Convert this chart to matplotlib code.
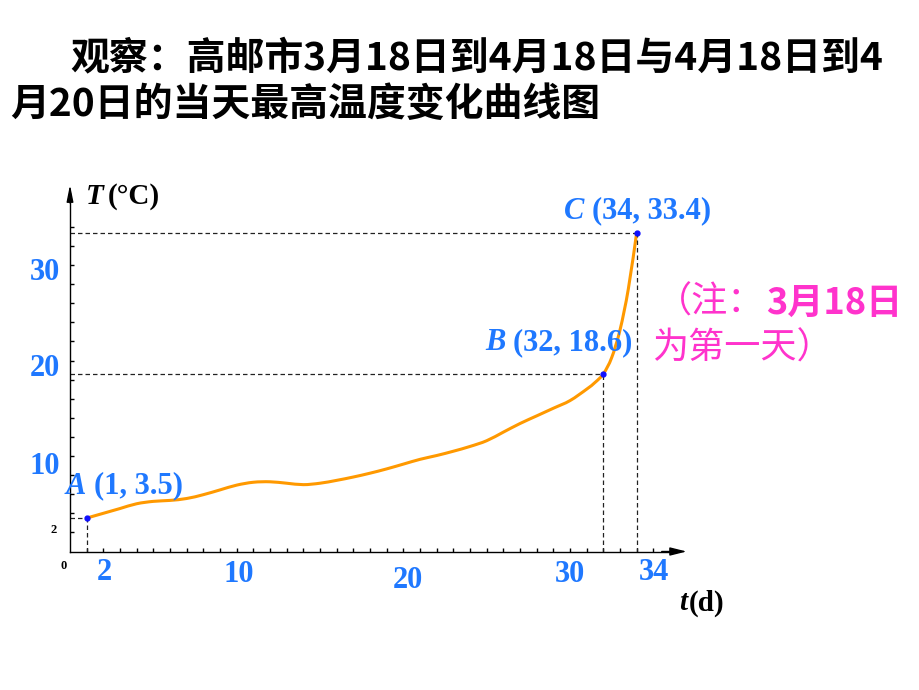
import matplotlib
matplotlib.use("Agg")
import matplotlib.pyplot as plt
from matplotlib.path import Path
from matplotlib.patches import PathPatch

# daily max temperature (t = day, 3/18 is day 1)
t = [1, 2, 3, 4, 5, 6, 7, 8, 9, 10, 11, 12, 13, 14, 15, 16, 17, 18, 19, 20,
     21, 22, 23, 24, 25, 26, 27, 28, 29, 30, 31, 31.5, 32, 32.5, 33, 33.5, 34]
T = [3.5, 4.0, 4.5, 5.0, 5.25, 5.35, 5.55, 5.95, 6.45, 6.95, 7.25, 7.3, 7.15,
     7.0, 7.15, 7.45, 7.8, 8.2, 8.65, 9.15, 9.65, 10.05, 10.5, 11.0, 11.6,
     12.5, 13.4, 14.2, 15.0, 15.8, 17.0, 17.7, 18.6, 20.3, 23.2, 27.5, 33.4]

pt_names = ["A", "B", "C"]
pt_t = [1, 32, 34]
pt_T = [3.5, 18.6, 33.4]

xtick_labels = ["2", "10", "20", "30", "34"]
ytick_labels = ["10", "20", "30"]

blue = "#1f78ff"
orange = "#ff9900"
pink = "#ff33cc"
serif = "Liberation Serif"
cjk = ["Noto Sans CJK SC", "DejaVu Sans"]

# pixel layout of the slide: origin at (70, 551.5), 16.67 px per day, 9.55 px per degree
X0, Y0, SX, SY = 70.0, 551.5, 16.667, 9.55


def px(x, y):
    return (x - X0) / SX, (Y0 - y) / SY


def smooth_path(xs, ys):
    # bezier path through the points (catmull-rom control points)
    pts = list(zip(xs, ys))
    verts = [pts[0]]
    codes = [Path.MOVETO]
    for i in range(len(pts) - 1):
        p0 = pts[max(i - 1, 0)]
        p1 = pts[i]
        p2 = pts[i + 1]
        p3 = pts[min(i + 2, len(pts) - 1)]
        c1 = (p1[0] + (p2[0] - p0[0]) / 6, p1[1] + (p2[1] - p0[1]) / 6)
        c2 = (p2[0] - (p3[0] - p1[0]) / 6, p2[1] - (p3[1] - p1[1]) / 6)
        verts += [c1, c2, p2]
        codes += [Path.CURVE4] * 3
    return Path(verts, codes)


fig = plt.figure(figsize=(9.2, 6.9), dpi=100)
ax = fig.add_axes([0, 0, 1, 1])
ax.set_xlim(px(0, 0)[0], px(920, 0)[0])
ax.set_ylim(px(0, 690)[1], px(0, 0)[1])

for s in ["top", "right"]:
    ax.spines[s].set_visible(False)
ax.spines["left"].set_position(("data", 0))
ax.spines["bottom"].set_position(("data", 0))
ax.spines["left"].set_bounds(0, 37.5)
ax.spines["bottom"].set_bounds(0, 36)
ax.spines["left"].set_linewidth(1)
ax.spines["bottom"].set_linewidth(1)

ax.annotate("", xy=(37.0, 0), xytext=(35.5, 0),
            arrowprops=dict(arrowstyle="-|>,head_length=1.0,head_width=0.25",
                            color="black", lw=1, shrinkA=0, shrinkB=0))
ax.annotate("", xy=(0, 38.4), xytext=(0, 36.5),
            arrowprops=dict(arrowstyle="-|>,head_length=1.0,head_width=0.2",
                            color="black", lw=1, shrinkA=0, shrinkB=0))

ax.set_xticks(range(1, 37))
ax.set_yticks(range(2, 36, 2))
ax.tick_params(direction="in", length=3, width=1, labelbottom=False, labelleft=False)
for tk in ax.xaxis.get_major_ticks() + ax.yaxis.get_major_ticks():
    if tk.get_loc() in (10, 20, 30):
        tk.tick1line.set_color(blue)

# dashed guide lines and the curve
dash = (0, (3.6, 2.4))
ax.vlines(pt_t, 0, pt_T, colors="#222222", linestyles=dash, lw=0.9)
ax.hlines(pt_T, 0, pt_t, colors="#222222", linestyles=dash, lw=0.9)
ax.add_patch(PathPatch(smooth_path(t, T), facecolor="none", edgecolor=orange,
                       lw=2.2, capstyle="round", joinstyle="round"))
ax.plot(pt_t, pt_T, "o", color="#1010ff", ms=3.5, zorder=5)

# tick labels
fs_tick = 22
for lab, (x, y) in zip(xtick_labels, [(104, 573), (239, 575), (408, 580), (570, 574), (654, 573)]):
    ax.text(*px(x, y), lab, color=blue, fontsize=fs_tick, family=serif,
            weight="bold", ha="center", va="center")
for lab, (x, y) in zip(ytick_labels, [(45, 466), (45, 369), (45, 273)]):
    ax.text(*px(x, y), lab, color=blue, fontsize=fs_tick, family=serif,
            weight="bold", ha="center", va="center")
ax.text(*px(54, 530), "2", fontsize=9, family=serif, weight="bold", ha="center", va="center")
ax.text(*px(64, 566), "0", fontsize=9, family=serif, weight="bold", ha="center", va="center")

# axis titles
ax.text(*px(86, 196), "T", fontsize=21, family=serif, weight="bold", style="italic",
        ha="left", va="center")
ax.text(*px(108, 196), "(°C)", fontsize=21, family=serif, weight="bold",
        ha="left", va="center")
ax.text(*px(679, 603), "t", fontsize=21, family=serif, weight="bold", style="italic",
        ha="left", va="center")
ax.text(*px(689, 603), "(d)", fontsize=21, family=serif, weight="bold",
        ha="left", va="center")

# point labels
lab_pos = [((66, 486), (94, 486)), ((485, 343), (513, 343)), ((564, 211), (592, 211))]
for name, x, y, (p1, p2) in zip(pt_names, pt_t, pt_T, lab_pos):
    ax.text(*px(*p1), name, color=blue, fontsize=22, family=serif, weight="bold",
            style="italic", ha="left", va="center")
    ax.text(*px(*p2), f"({x:g}, {y:g})", color=blue, fontsize=22, family=serif,
            weight="bold", ha="left", va="center")

# title
fig.text(70 / 920, 1 - 58 / 690, "观察：高邮市3月18日到4月18日与4月18日到4",
         fontsize=28, family=cjk, weight="bold", ha="left", va="center")
fig.text(10 / 920, 1 - 104 / 690, "月20日的当天最高温度变化曲线图",
         fontsize=28, family=cjk, weight="bold", ha="left", va="center")

# note
fig.text(656 / 920, 1 - 303 / 690, "（注：", fontsize=26, family=cjk, color=pink,
         ha="left", va="center")
fig.text(766 / 920, 1 - 303 / 690, "3月18日", fontsize=26, family=cjk, color=pink,
         weight="bold", ha="left", va="center")
fig.text(652 / 920, 1 - 349 / 690, "为第一天）", fontsize=26, family=cjk, color=pink,
         ha="left", va="center")

fig.savefig("out.png", dpi=100)
